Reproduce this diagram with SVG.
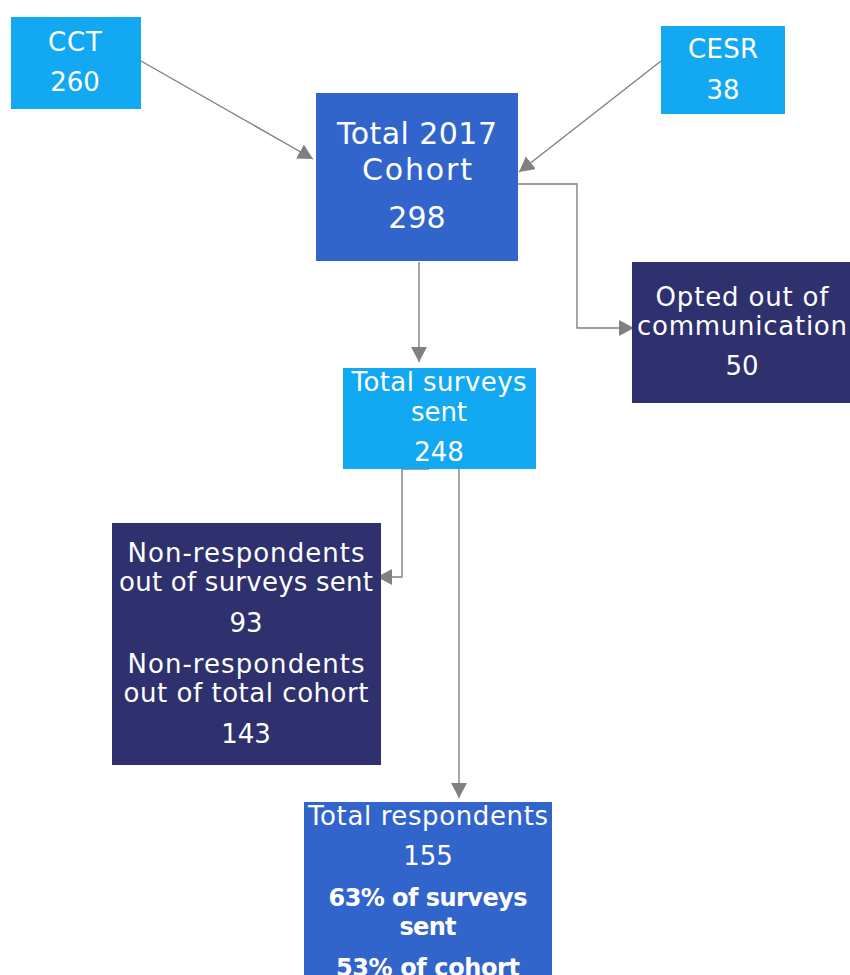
<svg xmlns="http://www.w3.org/2000/svg" width="850" height="975" viewBox="0 0 850 975">
<defs>
<marker id="arr" markerUnits="userSpaceOnUse" markerWidth="16" markerHeight="16" refX="15" refY="8" orient="auto">
<path d="M0,0 L15,8 L0,16 z" fill="#808080"/>
</marker>
<style>
.lb{fill:#13A9F2}
.mb{fill:#3265CC}
.db{fill:#2E316E}
text{font-family:"DejaVu Sans","Liberation Sans",sans-serif;fill:#ffffff;text-anchor:middle;font-size:26px}
.big{font-size:30px}
.bold{font-weight:bold;font-size:24px}
.conn{fill:none;stroke:#808080;stroke-width:1.4;marker-end:url(#arr)}
</style>
</defs>
<rect width="850" height="975" fill="#ffffff"/>
<g id="connectors">
<path class="conn" d="M141,61 L313,159"/>
<path class="conn" d="M661,61 L519,172"/>
<path class="conn" d="M518,184 L577,184 L577,328 L634,328"/>
<path class="conn" d="M419,262 L419,362"/>
<path class="conn" d="M429,469 L402,469 L402,577 L377,577"/>
<path class="conn" d="M459,469 L459,798"/>
</g>
<g id="cct">
<rect class="lb" x="11" y="17" width="130" height="92"/>
<text x="75" y="51" textLength="54" lengthAdjust="spacing">CCT</text>
<text x="75" y="91">260</text>
</g>
<g id="cesr">
<rect class="lb" x="661" y="26" width="124" height="88"/>
<text x="723" y="58" textLength="70" lengthAdjust="spacing">CESR</text>
<text x="723" y="99">38</text>
</g>
<g id="total-cohort">
<rect class="mb" x="316" y="93" width="202" height="168"/>
<text class="big" x="417" y="144" textLength="160" lengthAdjust="spacing">Total 2017</text>
<text class="big" x="417" y="180" textLength="110" lengthAdjust="spacing">Cohort</text>
<text class="big" x="417" y="228">298</text>
</g>
<g id="opted-out">
<rect class="db" x="632" y="262" width="220" height="141"/>
<text x="742" y="306" textLength="173" lengthAdjust="spacing">Opted out of</text>
<text x="742" y="335" textLength="210" lengthAdjust="spacing">communication</text>
<text x="742" y="375">50</text>
</g>
<g id="surveys-sent">
<rect class="lb" x="343" y="368" width="193" height="101"/>
<text x="439" y="391" textLength="175" lengthAdjust="spacing">Total surveys</text>
<text x="439" y="421" textLength="56" lengthAdjust="spacing">sent</text>
<text x="439" y="461">248</text>
</g>
<g id="non-respondents">
<rect class="db" x="112" y="523" width="269" height="242"/>
<text x="246" y="562" textLength="237" lengthAdjust="spacing">Non-respondents</text>
<text x="246" y="591" textLength="254" lengthAdjust="spacing">out of surveys sent</text>
<text x="246" y="632">93</text>
<text x="246" y="673" textLength="237" lengthAdjust="spacing">Non-respondents</text>
<text x="246" y="702" textLength="245" lengthAdjust="spacing">out of total cohort</text>
<text x="246" y="743">143</text>
</g>
<g id="respondents">
<rect class="mb" x="304" y="802" width="248" height="180"/>
<text x="428" y="825" textLength="240" lengthAdjust="spacing">Total respondents</text>
<text x="428" y="865">155</text>
<text class="bold" x="428" y="906" textLength="199" lengthAdjust="spacing">63% of surveys</text>
<text class="bold" x="428" y="935" textLength="57" lengthAdjust="spacing">sent</text>
<text class="bold" x="428" y="976" textLength="184" lengthAdjust="spacing">53% of cohort</text>
</g>
</svg>
